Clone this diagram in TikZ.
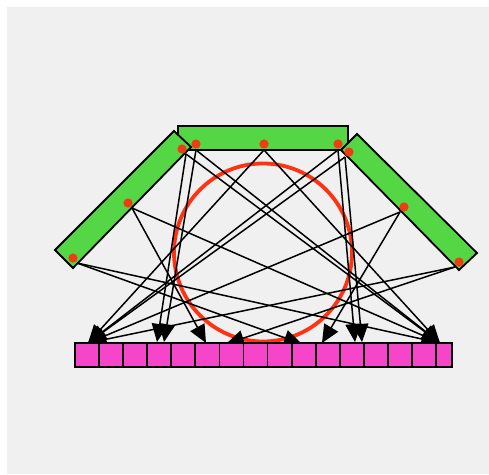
\documentclass[tikz,border=0pt]{standalone}
\usetikzlibrary{arrows.meta}
\definecolor{bgc}{HTML}{F0F0F0}
\definecolor{barg}{HTML}{55D645}
\definecolor{cellp}{HTML}{F545C8}
\definecolor{ringr}{HTML}{FF3311}
\definecolor{dotr}{HTML}{F03C14}
\begin{document}
\begin{tikzpicture}[x=1pt,y=-1pt,
  ray/.style={line width=1.5pt,-{Triangle[length=18pt,width=16pt]}},
  barbox/.style={fill=barg,draw=black,line width=1.8pt,line join=miter},
  cellbox/.style={fill=cellp,draw=black,line width=1.8pt},
  srcdot/.style={fill=dotr}]
\useasboundingbox (0,0) rectangle (489,474);
\fill[white] (0,0) rectangle (489,474);
\fill[bgc] (7,7) rectangle (489,474);
% bars
\draw[barbox] (178,126) rectangle (348,150);
\draw[barbox] (174,131) -- (191,147) -- (73,268) -- (55,250) -- cycle;
\draw[barbox] (357,134) -- (477,253) -- (459,270) -- (341,150) -- cycle;
% object
\draw[ringr,line width=3.8pt] (263,252.5) circle (89pt);
% ray start points
\coordinate (L1) at (186,154);
\coordinate (S1) at (196,150);
\coordinate (S2) at (264,150);
\coordinate (S3) at (338,150);
\coordinate (R1) at (345,157);
\coordinate (L2) at (132,208);
\coordinate (R2) at (400,212);
\coordinate (L3) at (77,263);
\coordinate (R3) at (455,267);
% targets
\coordinate (TA) at (88,343);
\coordinate (TB) at (157,342);
\coordinate (TC) at (164,342);
\coordinate (TD) at (206,343);
\coordinate (TE) at (226,344);
\coordinate (TF) at (302,344);
\coordinate (TG) at (322,343);
\coordinate (TH) at (355,342);
\coordinate (TI) at (362,342);
\coordinate (TJ) at (440,343);
% rays
\draw[ray] (L1) -- (TB);
\draw[ray] (L1) -- (TJ);
\draw[ray] (S1) -- (TC);
\draw[ray] (S1) -- (TJ);
\draw[ray] (S2) -- (TA);
\draw[ray] (S2) -- (TJ);
\draw[ray] (S3) -- (TA);
\draw[ray] (S3) -- (TH);
\draw[ray] (R1) -- (TA);
\draw[ray] (R1) -- (TI);
\draw[ray] (L2) -- (TJ);
\draw[ray] (L2) -- (TD);
\draw[ray] (R2) -- (TA);
\draw[ray] (R2) -- (TG);
\draw[ray] (L3) -- (TJ);
\draw[ray] (L3) -- (TF);
\draw[ray] (R3) -- (TA);
\draw[ray] (R3) -- (TE);
% source dots
\foreach \p in {(182,149),(196,144),(264,144),(338,144),(349,152),(128,203),(404,207),(73,258),(459,262)}
  \fill[srcdot] \p circle (4.6pt);
% detector cells
\foreach \i in {0,...,14}
  \draw[cellbox] (75+24.07*\i,343) rectangle (75+24.07*\i+24.07,367);
\draw[cellbox] (436.05,343) rectangle (452,367);
\end{tikzpicture}
\end{document}
